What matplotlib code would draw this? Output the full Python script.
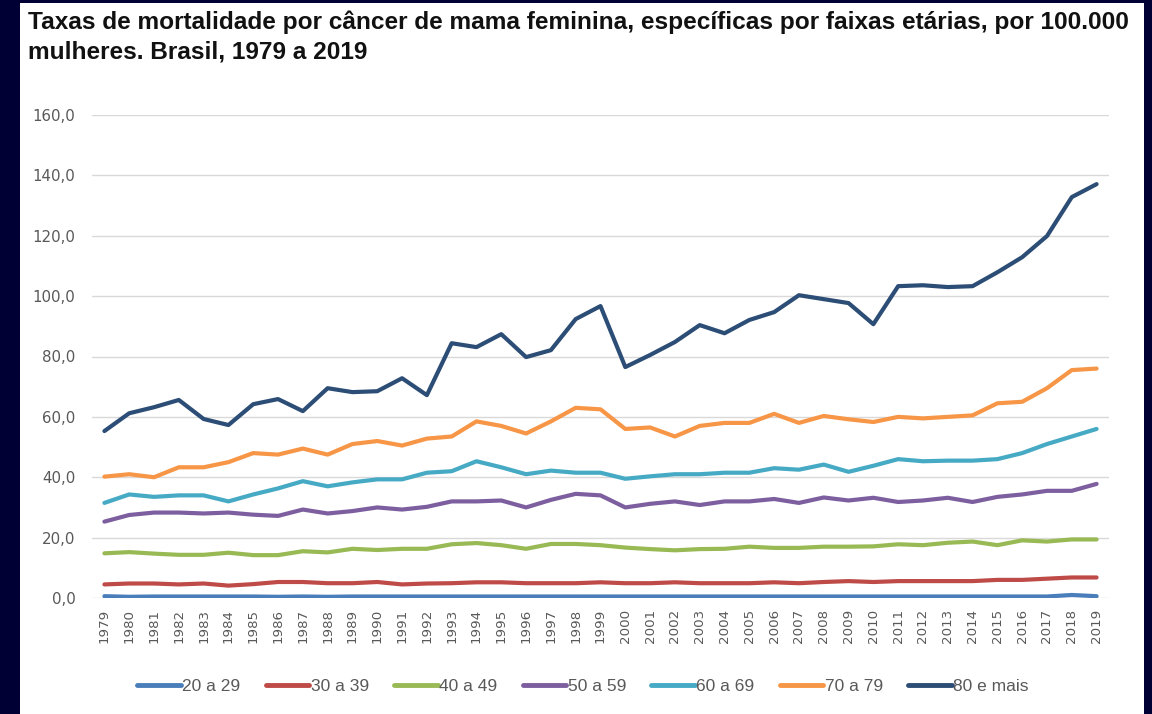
import matplotlib
matplotlib.use("Agg")
import matplotlib.pyplot as plt
from matplotlib.patches import Rectangle
from matplotlib.ticker import FuncFormatter

years = list(range(1979, 2020))

faixa_20_29 = [0.6, 0.4, 0.5, 0.5, 0.5, 0.5, 0.5, 0.4, 0.5, 0.4, 0.5, 0.5, 0.5, 0.5, 0.5,
               0.5, 0.5, 0.5, 0.5, 0.5, 0.5, 0.5, 0.5, 0.5, 0.5, 0.5, 0.5, 0.5, 0.5, 0.5,
               0.5, 0.5, 0.5, 0.5, 0.5, 0.5, 0.5, 0.5, 0.5, 1.0, 0.6]
faixa_30_39 = [4.5, 4.8, 4.8, 4.5, 4.8, 4.1, 4.6, 5.3, 5.3, 4.9, 4.9, 5.3, 4.5, 4.8, 4.9,
               5.2, 5.2, 4.9, 4.9, 4.9, 5.2, 4.9, 4.9, 5.2, 4.9, 4.9, 4.9, 5.2, 4.9, 5.3,
               5.6, 5.3, 5.6, 5.6, 5.6, 5.6, 6.0, 6.0, 6.4, 6.8, 6.8]
faixa_40_49 = [14.8, 15.2, 14.7, 14.3, 14.3, 15.0, 14.2, 14.2, 15.5, 15.1, 16.3, 15.9, 16.3, 16.3, 17.8,
               18.2, 17.5, 16.3, 17.9, 17.9, 17.5, 16.7, 16.2, 15.8, 16.2, 16.3, 17.0, 16.6, 16.6, 17.0,
               17.0, 17.1, 17.8, 17.5, 18.3, 18.7, 17.5, 19.1, 18.7, 19.4, 19.4]
faixa_50_59 = [25.3, 27.5, 28.3, 28.3, 28.0, 28.3, 27.6, 27.2, 29.3, 28.0, 28.8, 30.0, 29.3, 30.2, 32.0,
               32.0, 32.3, 30.0, 32.5, 34.5, 34.0, 30.0, 31.2, 32.0, 30.8, 32.0, 32.0, 32.8, 31.5, 33.3,
               32.3, 33.2, 31.8, 32.3, 33.2, 31.8, 33.5, 34.3, 35.5, 35.5, 37.8]
faixa_60_69 = [31.5, 34.3, 33.5, 34.0, 34.0, 32.0, 34.3, 36.3, 38.7, 37.0, 38.3, 39.3, 39.3, 41.5, 42.0,
               45.3, 43.3, 41.0, 42.2, 41.5, 41.5, 39.5, 40.3, 41.0, 41.0, 41.5, 41.5, 43.0, 42.5, 44.2,
               41.8, 43.8, 46.0, 45.3, 45.5, 45.5, 46.0, 48.0, 51.0, 53.5, 56.0]
faixa_70_79 = [40.2, 41.0, 40.0, 43.3, 43.3, 45.0, 48.0, 47.5, 49.5, 47.5, 51.0, 52.0, 50.5, 52.8, 53.5,
               58.5, 57.0, 54.5, 58.5, 63.0, 62.5, 56.0, 56.5, 53.5, 57.0, 58.0, 58.0, 61.0, 58.0, 60.3,
               59.2, 58.3, 60.0, 59.5, 60.0, 60.5, 64.5, 65.0, 69.5, 75.5, 76.0]
faixa_80_mais = [55.3, 61.2, 63.2, 65.6, 59.3, 57.3, 64.2, 65.9, 61.9, 69.5, 68.2, 68.5, 72.8, 67.2, 84.4,
                 83.1, 87.4, 79.8, 82.1, 92.4, 96.7, 76.5, 80.5, 84.8, 90.4, 87.7, 92.1, 94.7, 100.3, 99.0,
                 97.7, 90.7, 103.3, 103.6, 103.0, 103.3, 107.9, 112.9, 119.9, 132.8, 137.1]

series = [
    ("20 a 29", faixa_20_29, "#4a7ebb"),
    ("30 a 39", faixa_30_39, "#be4b48"),
    ("40 a 49", faixa_40_49, "#98b954"),
    ("50 a 59", faixa_50_59, "#7d5fa0"),
    ("60 a 69", faixa_60_69, "#46aac5"),
    ("70 a 79", faixa_70_79, "#f79646"),
    ("80 e mais", faixa_80_mais, "#2c4d75"),
]

fig = plt.figure(figsize=(11.52, 7.14), dpi=100)
fig.patch.set_facecolor("#000035")
# white panel inside the dark frame
fig.patches.append(Rectangle((20 / 1152, 0), 1124 / 1152, 711 / 714,
                             transform=fig.transFigure, facecolor="white",
                             edgecolor="none", zorder=-10))

title_font = ["Liberation Sans", "DejaVu Sans"]
fig.text(28 / 1152, 1 - 22 / 714,
         "Taxas de mortalidade por câncer de mama feminina, específicas por faixas etárias, por 100.000",
         fontsize=17.6, fontweight="bold", family=title_font,
         color="#111111", va="center", ha="left")
fig.text(28 / 1152, 1 - 52 / 714, "mulheres. Brasil, 1979 a 2019",
         fontsize=17.6, fontweight="bold", family=title_font,
         color="#111111", va="center", ha="left")

ax = fig.add_axes([92 / 1152, 1 - 598 / 714, 1017 / 1152, 483 / 714])
ax.set_facecolor("none")
for name, vals, col in series:
    ax.plot(years, vals, color=col, lw=3.0, label=name, solid_capstyle="round")

ax.set_xlim(1978.5, 2019.5)
ax.set_ylim(0, 160)
ax.set_yticks(range(0, 161, 20))
ax.yaxis.set_major_formatter(FuncFormatter(lambda v, p: f"{v:.1f}".replace(".", ",")))
ax.set_xticks(years)
ax.set_xticklabels([str(y) for y in years], rotation=90)
ax.grid(axis="y", color="#d9d9d9", lw=1)
ax.set_axisbelow(True)
for s in ax.spines.values():
    s.set_visible(False)
ax.tick_params(axis="both", length=0, colors="#595959")
ax.tick_params(axis="y", pad=12, labelsize=10.8)
ax.tick_params(axis="x", pad=8, labelsize=9.6)

leg = fig.legend(loc="center", bbox_to_anchor=(583 / 1152, 1 - 686 / 714), ncol=7,
                 frameon=False, handlelength=2.5, handletextpad=0.1,
                 columnspacing=1.45,
                 prop={"family": ["Liberation Sans Narrow", "Liberation Sans"], "size": 12.5})
for t in leg.get_texts():
    t.set_color("#595959")
for h in leg.get_lines():
    h.set_linewidth(3.5)

fig.savefig("out.png", dpi=100, facecolor=fig.get_facecolor())
